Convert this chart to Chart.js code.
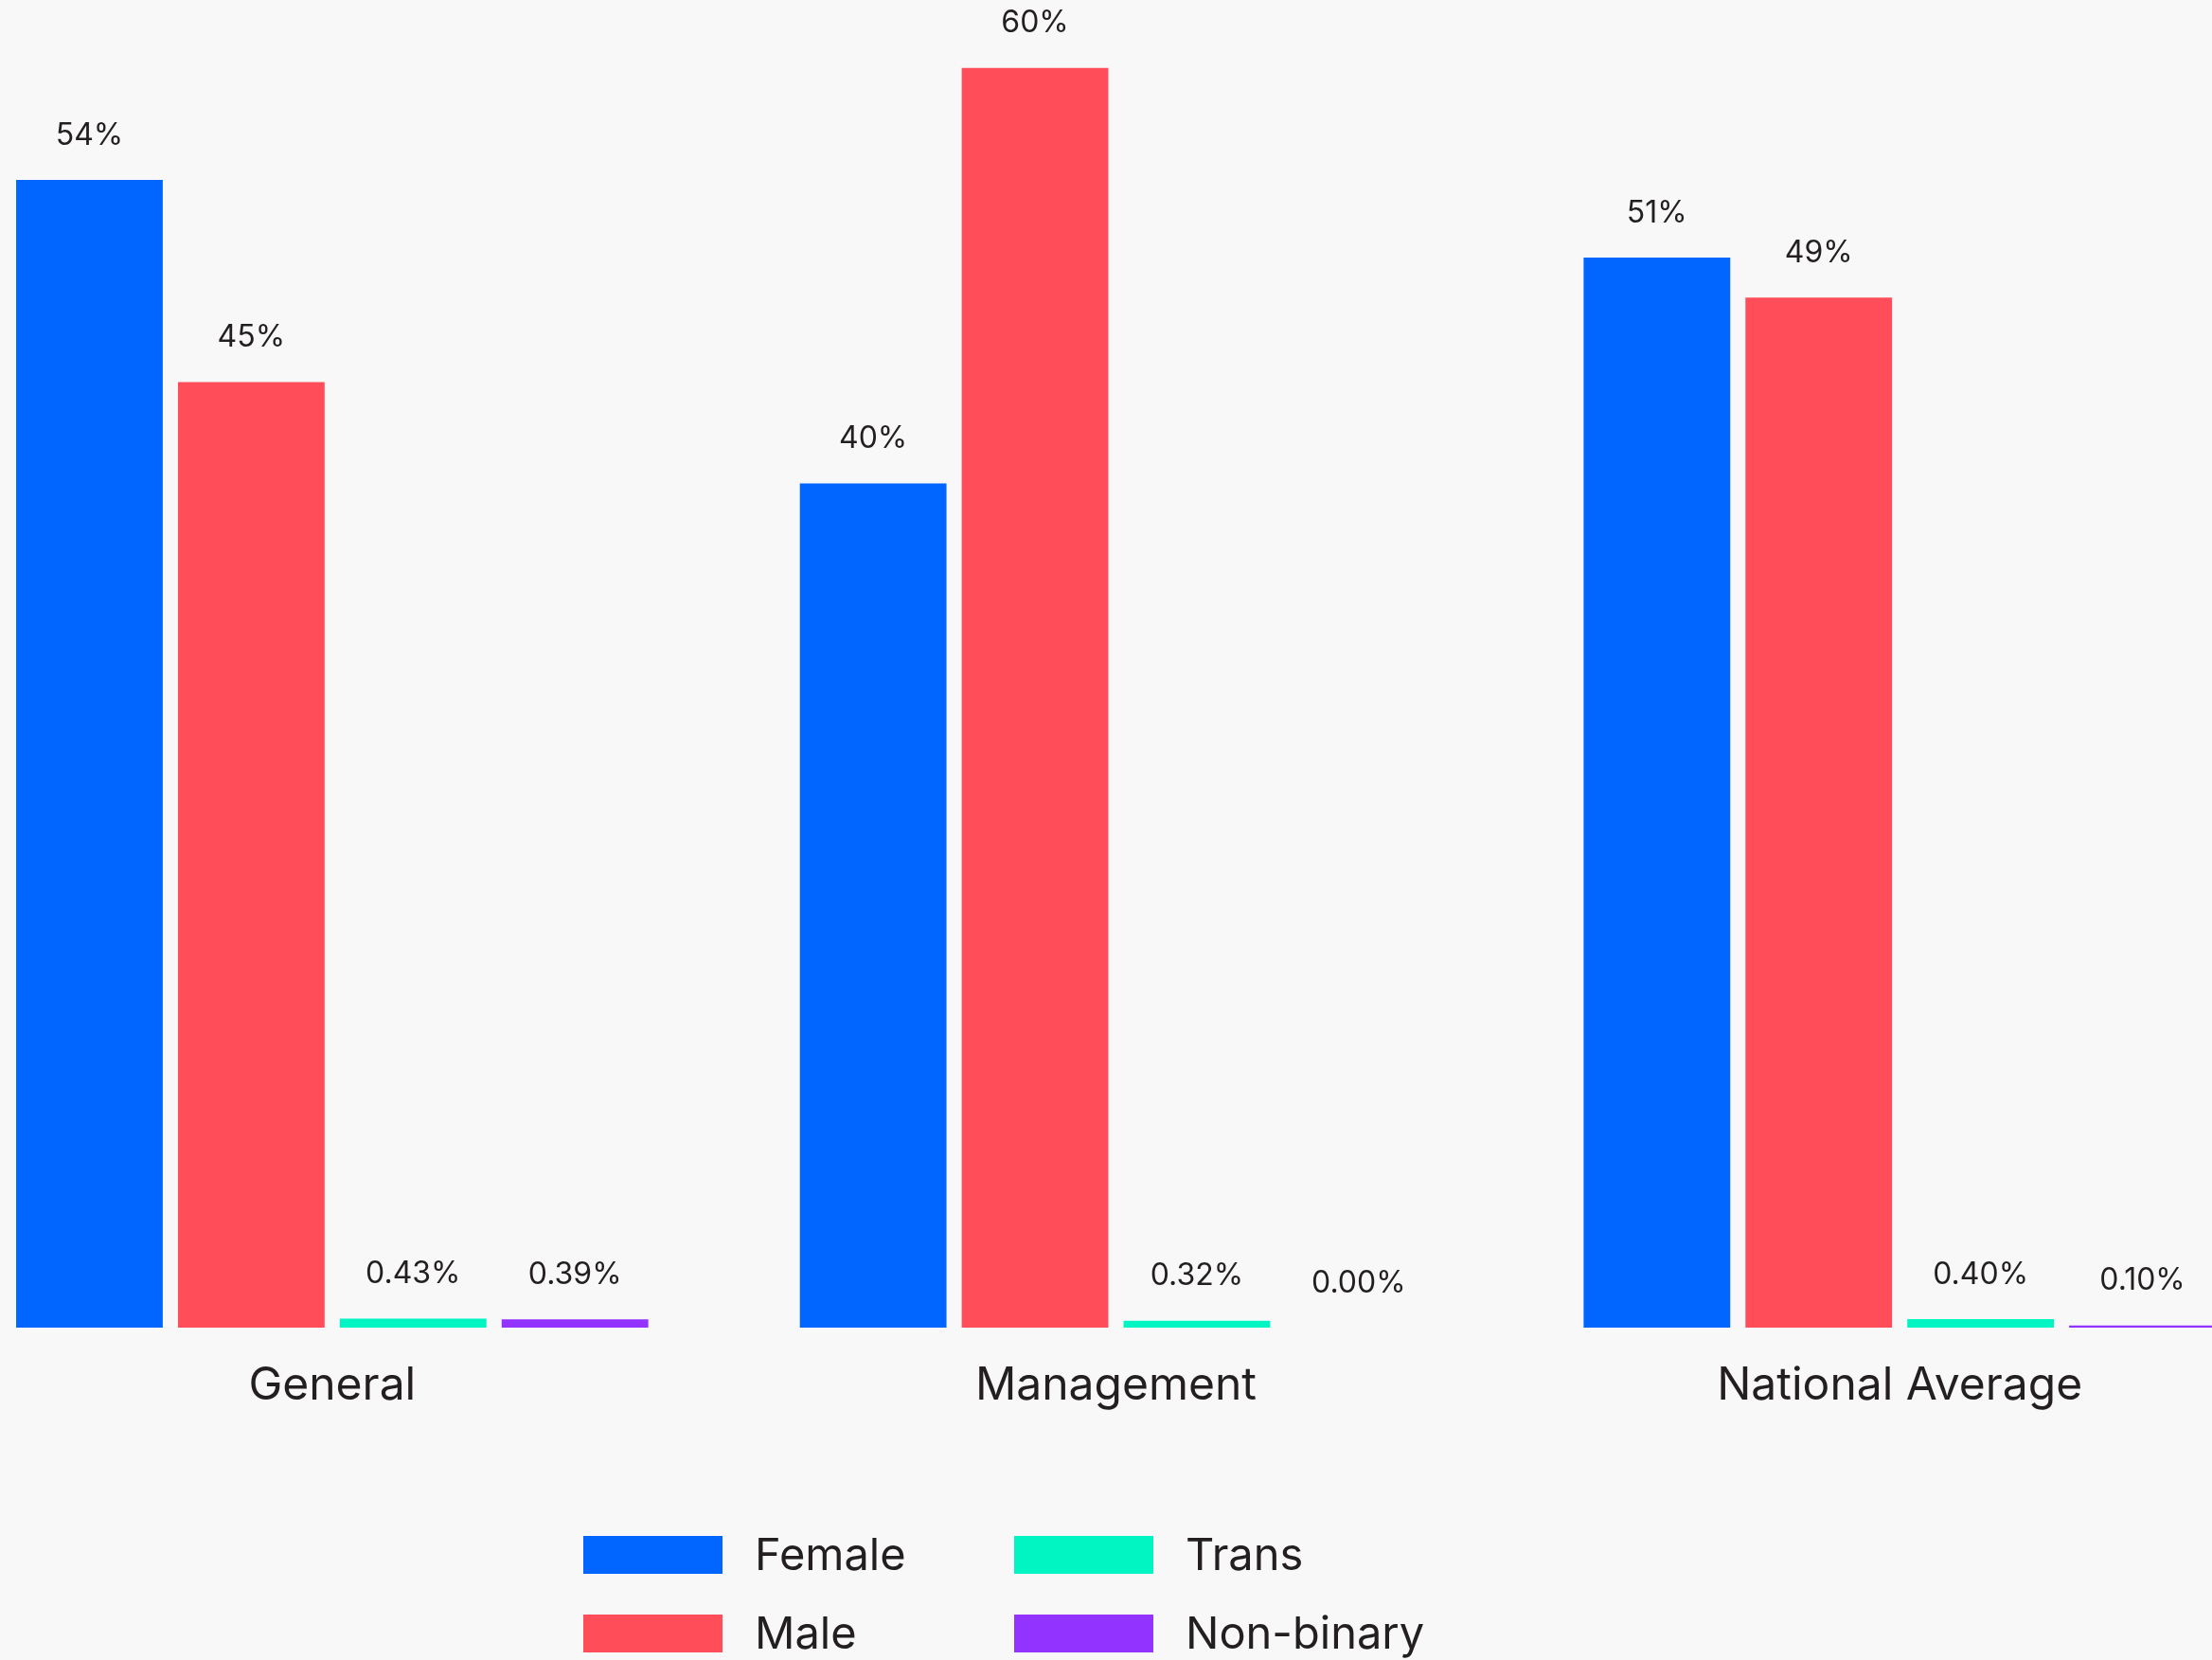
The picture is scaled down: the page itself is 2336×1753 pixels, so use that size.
<!DOCTYPE html>
<html lang="en">
<head>
    <meta charset="UTF-8">
    <title>Gender Distribution</title>
    <script src="https://cdn.jsdelivr.net/npm/chart.js@4.4.4/dist/chart.umd.min.js"></script>
    <style>
        html, body {
            margin: 0;
            padding: 0;
            background: #f8f8f8;
            overflow: hidden;
        }
        .chart-container {
            position: absolute;
            left: -63px;
            top: 0;
            width: 2483px;
            height: 1753px;
        }
    </style>
</head>
<body>
    <div class="chart-container">
        <canvas id="gender-chart"></canvas>
    </div>

    <script>
        // Categories and share per gender (percent)
        const categories = ['General', 'Management', 'National Average'];
        const genders = ['Female', 'Male', 'Trans', 'Non-binary'];
        const female = [54.38, 40.0, 50.7];
        const male = [44.8, 59.68, 48.8];
        const trans = [0.43, 0.32, 0.40];
        const nonBinary = [0.39, 0.00, 0.10];
        const colors = ['#0066ff', '#ff4d59', '#00f5c3', '#9333ff'];

        const textColor = '#231f20';
        const fontFamily = 'Inter, "Noto Sans", sans-serif';

        // Whole numbers for the big shares, two decimals for the tiny ones
        const formatPct = v => v >= 1 ? Math.round(v) + '%' : v.toFixed(2) + '%';

        // Value labels drawn above every bar
        const valueLabels = {
            id: 'valueLabels',
            afterDatasetsDraw(chart) {
                const ctx = chart.ctx;
                ctx.save();
                ctx.font = `32px ${fontFamily}`;
                ctx.fillStyle = textColor;
                ctx.textAlign = 'center';
                ctx.textBaseline = 'middle';
                chart.data.datasets.forEach((ds, i) => {
                    chart.getDatasetMeta(i).data.forEach((bar, j) => {
                        ctx.fillText(formatPct(ds.data[j]), bar.x, bar.y - 47);
                    });
                });
                ctx.restore();
            }
        };

        // Two-column legend (Female/Male, Trans/Non-binary)
        const columnLegend = {
            id: 'columnLegend',
            afterDraw(chart, args, opts) {
                const ctx = chart.ctx;
                ctx.save();
                ctx.font = `47px ${fontFamily}`;
                ctx.textAlign = 'left';
                ctx.textBaseline = 'middle';
                chart.data.datasets.forEach((ds, i) => {
                    const col = Math.floor(i / 2);
                    const row = i % 2;
                    const x = opts.x + col * opts.colWidth;
                    const y = opts.y + row * opts.rowHeight;
                    ctx.fillStyle = ds.backgroundColor;
                    ctx.fillRect(x, y, opts.boxWidth, opts.boxHeight);
                    ctx.fillStyle = textColor;
                    ctx.fillText(ds.label, x + opts.boxWidth + opts.gap, y + opts.boxHeight / 2 + 2);
                });
                ctx.restore();
            }
        };

        const series = [female, male, trans, nonBinary];

        new Chart(document.getElementById('gender-chart'), {
            type: 'bar',
            data: {
                labels: categories,
                datasets: genders.map((g, i) => ({
                    label: g,
                    data: series[i],
                    backgroundColor: colors[i],
                    borderWidth: 0,
                    barPercentage: 0.906,
                    categoryPercentage: 0.826
                }))
            },
            options: {
                responsive: true,
                maintainAspectRatio: false,
                animation: false,
                layout: {
                    padding: { top: 0, left: 0, right: 0, bottom: 231 }
                },
                scales: {
                    x: {
                        grid: { display: false, drawTicks: false },
                        border: { display: false },
                        ticks: {
                            color: textColor,
                            font: { family: fontFamily, size: 48 },
                            padding: 33
                        },
                        afterFit(scale) { scale.height = 120; }
                    },
                    y: {
                        display: false,
                        min: 0,
                        max: 62.9
                    }
                },
                plugins: {
                    legend: { display: false },
                    tooltip: { enabled: false },
                    columnLegend: {
                        x: 679,
                        y: 1622,
                        colWidth: 455,
                        rowHeight: 83,
                        boxWidth: 147,
                        boxHeight: 40,
                        gap: 34
                    }
                }
            },
            plugins: [valueLabels, columnLegend]
        });
    </script>
</body>
</html>
